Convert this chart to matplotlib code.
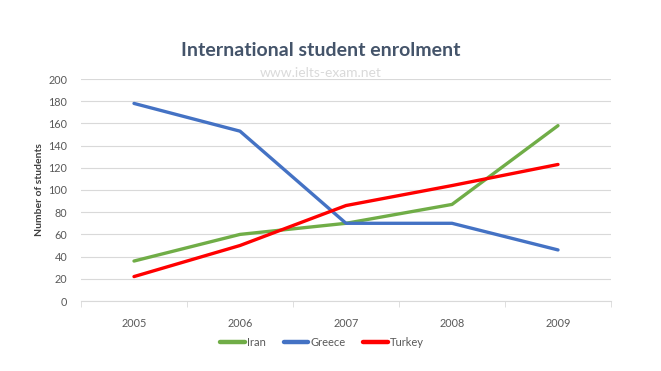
import matplotlib.pyplot as plt
import numpy as np

years = ['2005', '2006', '2007', '2008', '2009']
iran = [36, 60, 70, 87, 158]
greece = [178, 153, 70, 70, 46]
turkey = [22, 50, 86, 104, 123]

series = [
    ('Iran', iran, '#70AD47'),
    ('Greece', greece, '#4472C4'),
    ('Turkey', turkey, '#FF0000'),
]

plt.rcParams['font.family'] = ['Lato', 'DejaVu Sans']

fig = plt.figure(figsize=(6.61, 3.71), dpi=100)
ax = fig.add_axes([81 / 661, 1 - 301 / 371, 530 / 661, 222 / 371])

x = np.arange(len(years))
for name, vals, color in series:
    ax.plot(x, vals, color=color, linewidth=2.4, label=name, solid_capstyle='round')

ax.set_xlim(-0.5, len(years) - 0.5)
ax.set_ylim(0, 200)
ax.set_yticks(range(0, 201, 20))
ax.yaxis.grid(True, color='#D9D9D9', linewidth=0.8)
ax.set_axisbelow(True)

ax.set_xticks(x)
ax.set_xticklabels(years)
ax.set_xticks(np.arange(-0.5, len(years), 1), minor=True)
ax.tick_params(axis='x', which='major', length=0, pad=12, labelsize=7.8, labelcolor='#595959')
ax.tick_params(axis='x', which='minor', length=4, color='#D9D9D9', direction='out')
ax.tick_params(axis='y', length=0, pad=10, labelsize=7.8, labelcolor='#595959')

for side in ['top', 'right', 'left']:
    ax.spines[side].set_visible(False)
ax.spines['bottom'].set_color('#D9D9D9')

ax.set_ylabel('Number of students', fontsize=7.5, color='#404040', fontweight='bold', labelpad=3)

fig.text(321 / 661, 1 - 50 / 371, 'International student enrolment', ha='center', va='center',
         fontsize=14, fontweight='bold', color='#44546A')
fig.text(321 / 661, 1 - 73 / 371, 'www.ielts-exam.net', ha='center', va='center',
         fontsize=10, color='#DADADA')

fig.legend(loc='center', bbox_to_anchor=(322 / 661, 1 - 342 / 371), ncol=3, frameon=False,
           fontsize=8, labelcolor='#595959', handlelength=2.2, handletextpad=0.2, columnspacing=1.6)
for line in fig.legends[0].get_lines():
    line.set_linewidth(3.2)

fig.savefig('out.png', dpi=100)
